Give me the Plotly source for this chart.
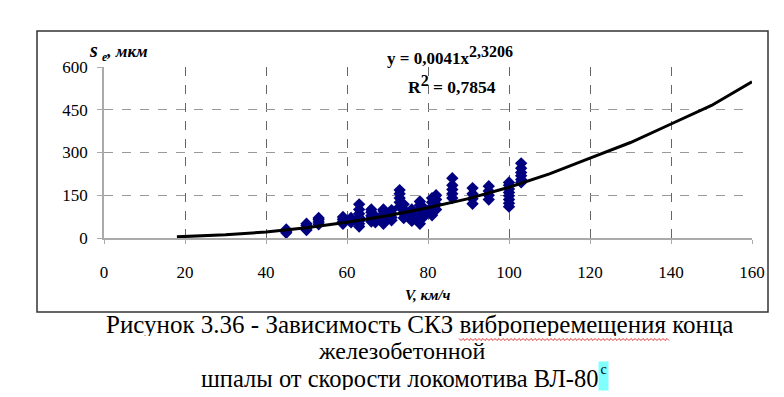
import plotly.graph_objects as go

# ---- data ----
speed = [45, 45, 45,
         50, 50, 50, 50,
         53, 53, 53, 53,
         59, 59, 59, 59,
         61, 61, 61,
         63, 63, 63, 63, 63, 63, 63,
         66, 66, 66, 66, 66,
         67, 67, 67,
         69, 69, 69, 69, 69, 69,
         71, 71, 71, 71,
         73, 73, 73, 73, 73,
         74, 74, 74, 74,
         76, 76, 76, 76,
         78, 78, 78, 78, 78, 78,
         79, 79, 79,
         81, 81, 81, 81, 81,
         82, 82, 82, 82,
         86, 86, 86, 86, 86,
         91, 91, 91, 91,
         95, 95, 95, 95,
         100, 100, 100, 100, 100, 100, 100, 100,
         103, 103, 103, 103, 103, 103]
se = [18, 24, 30,
      28, 36, 44, 50,
      48, 56, 64, 70,
      50, 58, 66, 74,
      55, 62, 70,
      40, 50, 60, 72, 85, 100, 118,
      58, 68, 78, 90, 100,
      55, 65, 75,
      50, 60, 72, 85, 95, 100,
      62, 72, 85, 98,
      110, 125, 140, 155, 168,
      70, 85, 100, 118,
      60, 72, 85, 100,
      50, 65, 80, 100, 115, 128,
      75, 90, 105,
      80, 95, 110, 125, 140,
      100, 118, 135, 150,
      140, 155, 170, 185, 210,
      120, 138, 155, 175,
      135, 150, 165, 182,
      110, 122, 135, 148, 160, 172, 185, 195,
      195, 205, 218, 230, 245, 262]

trend_x = [18, 30, 40, 50, 60, 70, 80, 90, 100, 110, 120, 130, 140, 150, 160]
trend_y = [4, 11, 21, 36, 55, 78, 106, 138, 178, 225, 280, 335, 400, 465, 548]

x_ticks = [0, 20, 40, 60, 80, 100, 120, 140, 160]
y_ticks = [0, 150, 300, 450, 600]

L, R, T, B = 104, 752, 67, 238  # plot area in px
W, H = 784, 397


def px(x):
    return (x - L) / (R - L)


def py(y):
    return (B - y) / (B - T)


serif = "Liberation Serif, Times New Roman, serif"

fig = go.Figure()
fig.add_trace(go.Scatter(x=speed, y=se, mode="markers",
                         marker=dict(symbol="diamond", size=9.5, color="#000080",
                                     line=dict(width=0)),
                         showlegend=False))
fig.add_trace(go.Scatter(x=trend_x, y=trend_y, mode="lines",
                         line=dict(color="black", width=3),
                         showlegend=False))

fig.update_layout(
    width=W, height=H,
    margin=dict(l=L, r=W - R, t=T, b=H - B),
    paper_bgcolor="white", plot_bgcolor="white",
    font=dict(family=serif, color="black", size=17),
    xaxis=dict(range=[0, 160], tickvals=x_ticks, showgrid=True,
               gridcolor="#666", griddash="dash", gridwidth=1,
               showline=True, linecolor="#aaa", linewidth=1.5,
               zeroline=False, ticks="outside", ticklen=4, tickcolor="#aaa",
               ticklabelstandoff=14, tickfont=dict(size=17)),
    yaxis=dict(range=[0, 600], tickvals=y_ticks, showgrid=True,
               gridcolor="#999", griddash="dash", gridwidth=1,
               showline=True, linecolor="#aaa", linewidth=1.5,
               zeroline=False, ticks="outside", ticklen=5, tickcolor="#aaa",
               ticklabelstandoff=6, tickfont=dict(size=17)),
)

# outer frame
fig.add_shape(type="rect", xref="paper", yref="paper",
              x0=px(37), x1=px(768), y0=py(312), y1=py(31),
              line=dict(color="#333", width=1.5))

ann = []
ann.append(dict(text="<b><i><span style='font-size:20px'>s</span> <sub>e</sub>, мкм</i></b>",
                x=px(87), y=py(51), xanchor="left", yanchor="middle", font=dict(size=17)))
ann.append(dict(text="<b><i>V, км/ч</i></b>", x=px(428), y=py(295),
                xanchor="center", yanchor="middle", font=dict(size=15)))
ann.append(dict(text="<b>y = 0,0041x<sup><span style='font-size:16px'>2,3206</span></sup></b>",
                x=px(385), y=py(55), xanchor="left", yanchor="middle", font=dict(size=17)))
ann.append(dict(text="<b>R<sup><span style='font-size:16px'>2</span></sup> = 0,7854</b>",
                x=px(406), y=py(84), xanchor="left", yanchor="middle", font=dict(size=17.5)))
ann.append(dict(text="Рисунок 3.36 - Зависимость СКЗ виброперемещения конца",
                x=px(419), y=py(323.5), xanchor="center", yanchor="middle",
                height=24, borderpad=0, font=dict(size=25)))
ann.append(dict(text="железобетонной", x=px(402), y=py(350.5),
                xanchor="center", yanchor="middle",
                height=24, borderpad=0, font=dict(size=24)))
ann.append(dict(text="шпалы от скорости локомотива ВЛ-80", x=px(599), y=py(378),
                xanchor="right", yanchor="middle",
                height=24, borderpad=0, font=dict(size=24.5)))
ann.append(dict(text="с", x=px(598), y=py(361), xanchor="left", yanchor="top",
                width=9, height=28, valign="top", align="center",
                font=dict(size=14), bgcolor="#80ffff", borderpad=0))
for a in ann:
    a.update(xref="paper", yref="paper", showarrow=False)
fig.update_layout(annotations=ann)

# red spell-check wavy underline
pts = []
xw = 459
i = 0
while xw <= 670:
    pts.append((px(xw), py(339 + (1.5 if i % 2 else -0.5))))
    xw += 2
    i += 1
path = "M " + " L ".join(f"{a:.5f},{b:.5f}" for a, b in pts)
fig.add_shape(type="path", xref="paper", yref="paper", path=path,
              line=dict(color="#e03030", width=1))

fig.write_html("out.html", post_script="document.body.style.margin='0';",
               config={"displayModeBar": False})
